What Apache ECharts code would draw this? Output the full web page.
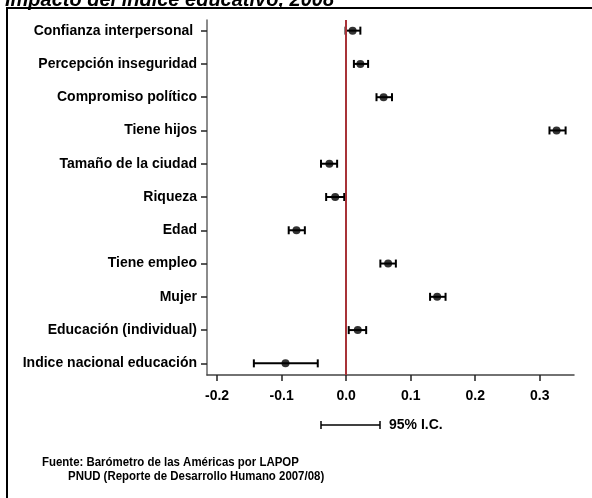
<!DOCTYPE html>
<html>
<head>
<meta charset="utf-8">
<script src="https://cdn.jsdelivr.net/npm/echarts@6/dist/echarts.min.js"></script>
<style>
  html, body { margin: 0; padding: 0; background: #fff; }
  #chart { width: 592px; height: 498px; }
</style>
</head>
<body>
<div id="chart"></div>
<script>
// Predictors of the regression, top to bottom
const categories = [
  'Confianza interpersonal ',
  'Percepción inseguridad',
  'Compromiso político',
  'Tiene hijos',
  'Tamaño de la ciudad',
  'Riqueza',
  'Edad',
  'Tiene empleo',
  'Mujer',
  'Educación (individual)',
  'Indice nacional educación'
];
// Standardized coefficients and 95% confidence bounds
const coefficients = [0.010, 0.022, 0.058, 0.326, -0.026, -0.017, -0.077, 0.065, 0.141, 0.018, -0.094];
const ciLower      = [-0.001, 0.012, 0.047, 0.315, -0.039, -0.031, -0.089, 0.053, 0.130, 0.004, -0.143];
const ciUpper      = [0.022, 0.034, 0.071, 0.340, -0.014, -0.003, -0.064, 0.077, 0.154, 0.031, -0.044];
const xTicks = [-0.2, -0.1, 0.0, 0.1, 0.2, 0.3];
const rowIndex = categories.map((_, i) => i);

const FONT = '"Liberation Sans", Arial, sans-serif';

const chart = echarts.init(document.getElementById('chart'), null, { renderer: 'canvas' });

const pointData = coefficients.map((v, i) => [v, i]);
const barData = rowIndex.map(i => [i, ciLower[i], ciUpper[i]]);

// horizontal interval with end caps
function renderErrorBar(params, api) {
  const idx = api.value(0);
  const a = api.coord([api.value(1), idx]);
  const b = api.coord([api.value(2), idx]);
  const h = 4;
  const style = { stroke: '#000', lineWidth: 2, fill: null };
  return {
    type: 'group',
    children: [
      { type: 'line', shape: { x1: a[0], y1: a[1], x2: b[0], y2: b[1] }, style },
      { type: 'line', shape: { x1: a[0], y1: a[1] - h, x2: a[0], y2: a[1] + h }, style },
      { type: 'line', shape: { x1: b[0], y1: b[1] - h, x2: b[0], y2: b[1] + h }, style }
    ]
  };
}

chart.setOption({
  animation: false,
  backgroundColor: '#fff',
  grid: { left: 207, right: 18, top: 20, bottom: 123, containLabel: false },
  xAxis: {
    type: 'value',
    min: -0.2156,
    max: 0.353,
    splitLine: { show: false },
    axisLine: { show: true, onZero: false, lineStyle: { color: '#444', width: 1.5 } },
    axisTick: { show: true, length: 6, customValues: xTicks, lineStyle: { color: '#222', width: 1.5 } },
    axisLabel: {
      customValues: xTicks,
      margin: 14,
      color: '#000',
      fontFamily: FONT,
      fontWeight: 'bold',
      fontSize: 14,
      formatter: v => v.toFixed(1)
    }
  },
  yAxis: {
    type: 'value',
    inverse: true,
    min: -0.32,
    max: 10.35,
    splitLine: { show: false },
    axisLine: { show: true, onZero: false, lineStyle: { color: '#666', width: 1.5 } },
    axisTick: { show: true, length: 6, customValues: rowIndex, lineStyle: { color: '#222', width: 1.5 } },
    axisLabel: {
      customValues: rowIndex,
      margin: 10,
      color: '#000',
      fontFamily: FONT,
      fontWeight: 'bold',
      fontSize: 14,
      formatter: v => categories[Math.round(v)] || ''
    }
  },
  series: [
    {
      type: 'custom',
      renderItem: renderErrorBar,
      encode: { x: [1, 2], y: 0 },
      data: barData,
      z: 2
    },
    {
      type: 'scatter',
      data: pointData,
      symbol: 'circle',
      symbolSize: 8,
      itemStyle: { color: '#000' },
      z: 3,
      markLine: {
        silent: true,
        symbol: 'none',
        label: { show: false },
        lineStyle: { color: '#a83238', width: 2, type: 'solid' },
        data: [{ xAxis: 0 }]
      }
    }
  ],
  graphic: [
    // frame
    { type: 'line', shape: { x1: 7, y1: 8, x2: 7, y2: 498 }, style: { stroke: '#000', lineWidth: 2 } },
    { type: 'line', shape: { x1: 6, y1: 8, x2: 592, y2: 8 }, style: { stroke: '#000', lineWidth: 2 } },
    // heading
    {
      type: 'text', x: 5, y: 10,
      style: {
        text: 'Impacto del índice educativo, 2008',
        font: 'italic bold 20px ' + FONT,
        fill: '#000',
        verticalAlign: 'bottom'
      }
    },
    // confidence interval key
    { type: 'line', shape: { x1: 321, y1: 425, x2: 380, y2: 425 }, style: { stroke: '#000', lineWidth: 1.5 } },
    { type: 'line', shape: { x1: 321, y1: 421, x2: 321, y2: 429 }, style: { stroke: '#000', lineWidth: 1.5 } },
    { type: 'line', shape: { x1: 380, y1: 421, x2: 380, y2: 429 }, style: { stroke: '#000', lineWidth: 1.5 } },
    {
      type: 'text', x: 389, y: 425,
      style: { text: '95% I.C.', font: 'bold 14px ' + FONT, fill: '#000', verticalAlign: 'middle' }
    },
    // source note (slightly condensed)
    {
      type: 'text', x: 42, y: 462, scaleX: 0.88,
      style: { text: 'Fuente: Barómetro de las Américas por LAPOP', font: 'bold 13px ' + FONT, fill: '#000', verticalAlign: 'middle' }
    },
    {
      type: 'text', x: 68, y: 476, scaleX: 0.88,
      style: { text: 'PNUD (Reporte de Desarrollo Humano 2007/08)', font: 'bold 13px ' + FONT, fill: '#000', verticalAlign: 'middle' }
    }
  ]
});
</script>
</body>
</html>
